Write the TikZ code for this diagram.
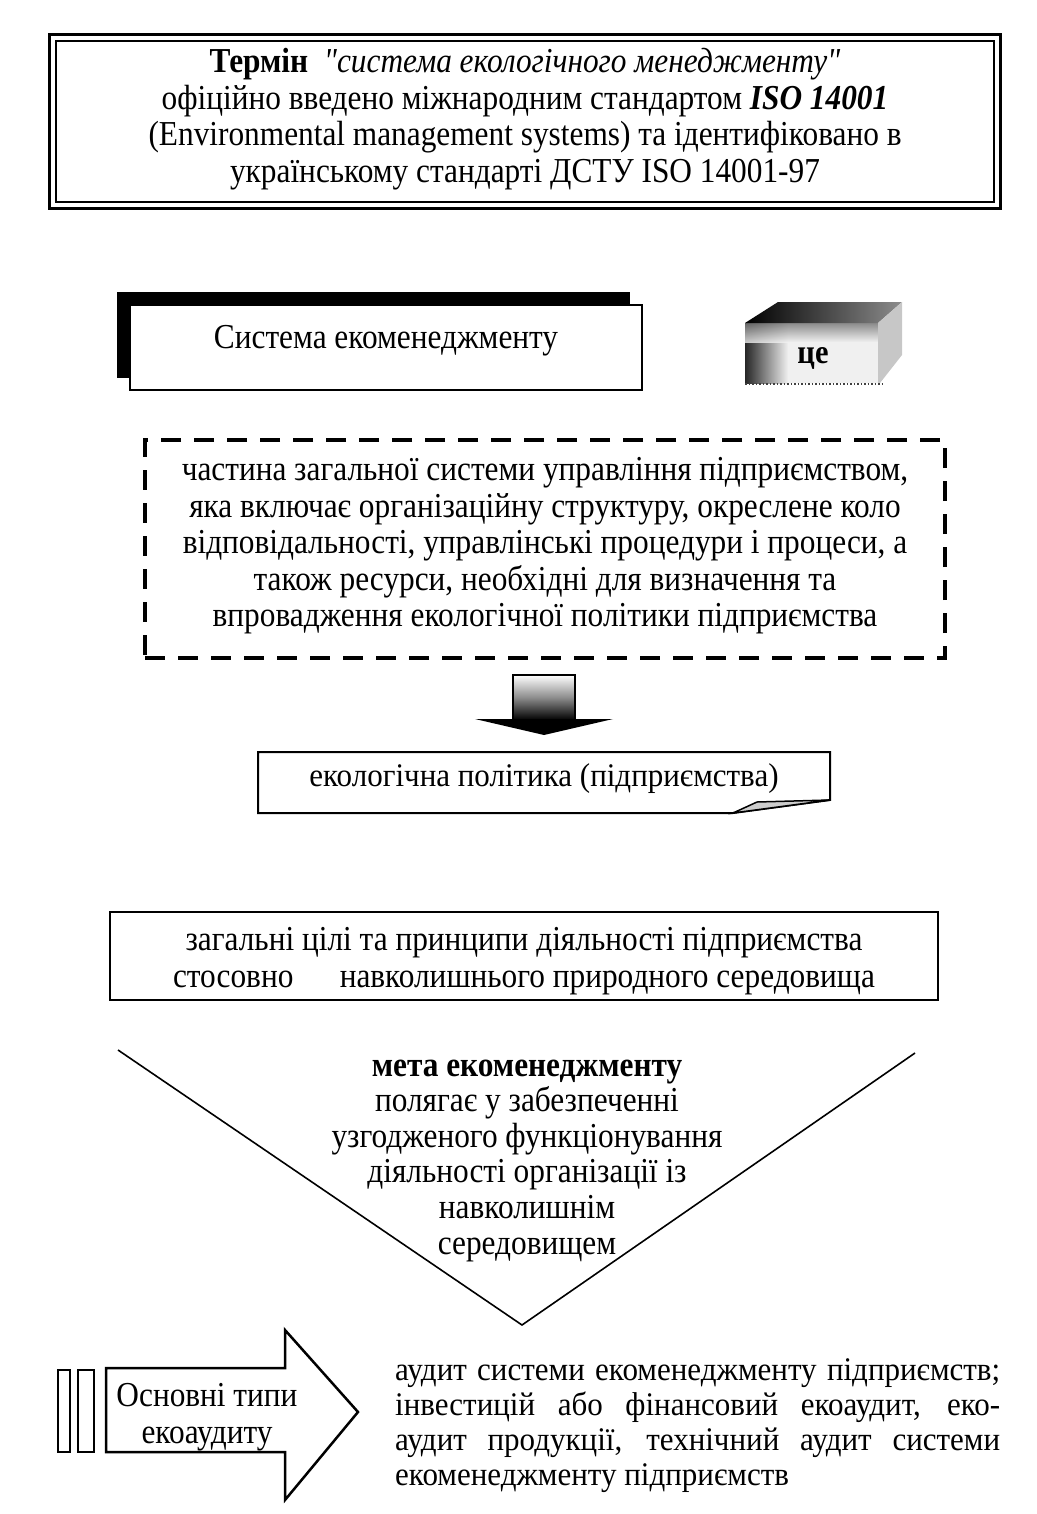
\documentclass[tikz,border=0pt]{standalone}
\usepackage{fontspec}
\setmainfont{Liberation Serif}
\newfontfamily\condfont{Liberation Serif}[FakeStretch=0.895]
\newfontfamily\normfont{Liberation Serif}[FakeStretch=0.94]
\begin{document}
\begin{tikzpicture}[x=1pt,y=-1pt,
  bigtxt/.style={font=\condfont\fontsize{35}{36.5}\selectfont, align=center, inner sep=0pt},
  tritxt/.style={font=\condfont\fontsize{35}{35.6}\selectfont, align=center, inner sep=0pt},
  midtxt/.style={font=\normfont\fontsize{33}{36}\selectfont, align=center, inner sep=0pt},
  framebox/.style={draw, line width=2pt, fill=white},
]
\useasboundingbox (0,0) rectangle (1036,1514);

% ---------- top box
\node[draw, line width=1.3pt, minimum width=938, minimum height=161, inner sep=0pt] (termbox) at (525,121.5) {};
\draw[line width=3pt] ([shift={(-6,-6)}]termbox.north west) rectangle ([shift={(6,6)}]termbox.south east);
\node[bigtxt] (term) at (525,119) {\textbf{Термін}\ \ \textit{"система екологічного менеджменту"}\\
офіційно введено міжнародним стандартом \textbf{\textit{ISO 14001}}\\
(Environmental management systems) та ідентифіковано в\\
українському стандарті ДСТУ ISO 14001-97};

% ---------- system box with shadow
\node[fill=black, minimum width=513, minimum height=86, inner sep=0pt] (sysshadow) at (373.5,335) {};
\node[framebox, minimum width=512, minimum height=85, inner sep=0pt] (sysbox) at (386,347.5) {};
\node[bigtxt] (sys) at (386,341) {Система екоменеджменту};

% ---------- "це" box (3D bevel)
\fill[black!6] (745,323) rectangle (878,383);
\shade[left color=black!85, right color=black!6] (745,323) rectangle (788,383);
\shade[top color=black!55, bottom color=black!6, opacity=0.8] (745,323) rectangle (878,342);
\shade[left color=black, right color=black!45] (745,323) -- (778,302) -- (902,302) -- (878,323) -- cycle;
\fill[black!22] (878,323) -- (902,302) -- (902,355) -- (880,383) -- (878,383) -- cycle;
\draw[black!75, line width=1.5pt, dotted] (745,384) -- (882,384);
\node[font=\condfont\bfseries\fontsize{34}{34}\selectfont, inner sep=0pt] (tse) at (813,358) {це};

% ---------- dashed definition box
\node[draw, line width=4pt, dash pattern=on 20pt off 13pt, minimum width=800, minimum height=218, inner sep=0pt] (defbox) at (545,549) {};
\node[bigtxt] (def) at (545,546) {частина загальної системи управління підприємством,\\
яка включає організаційну структуру, окреслене коло\\
відповідальності, управлінські процедури і процеси, а\\
також ресурси, необхідні для визначення та\\
впровадження екологічної політики підприємства};

% ---------- down arrow
\shade[top color=white, bottom color=black, middle color=black!45] (513,675) rectangle (575,720);
\draw[line width=2pt] (513,720) -- (513,675) -- (575,675) -- (575,720);
\fill (475,719) -- (613,719) -- (544,735) -- cycle;

% ---------- policy box with curled corner
\draw[line width=2pt, fill=white] (258,752) -- (830,752) -- (830,800) -- (733,813) -- (258,813) -- cycle;
\filldraw[line width=1.5pt, fill=black!20] (733,813) -- (757,802) -- (830,800) -- cycle;
\node[midtxt] (pol) at (544,779) {екологічна політика (підприємства)};

% ---------- goals box
\node[framebox, minimum width=828, minimum height=88, inner sep=0pt] (goalsbox) at (524,956) {};
\node[bigtxt] (goals) at (524,961) {загальні цілі та принципи діяльності підприємства\\
стосовно\hspace{1.1em} навколишнього природного середовища};

% ---------- inverted triangle
\coordinate (tl) at (118,1050);
\coordinate (tip) at (522,1325);
\coordinate (tr) at (915,1053);
\draw[line width=1.6pt] (tl) -- (tip) -- (tr);
\node[tritxt] (aim) at (527,1160.5) {\textbf{мета екоменеджменту}\\
полягає у забезпеченні\\
узгодженого функціонування\\
діяльності організації із\\
навколишнім\\
середовищем};

% ---------- bottom arrow
\draw[line width=2pt] (58,1370) rectangle (70,1452);
\draw[line width=2pt] (78,1370) rectangle (94,1452);
\draw[line width=2.5pt, line join=miter] (106,1368) -- (285,1368) -- (285,1330) -- (358,1412) -- (285,1500) -- (285,1452) -- (106,1452) -- cycle;
\node[bigtxt] (types) at (207,1417) {Основні типи\\екоаудиту};

\node[font=\normfont\fontsize{33}{35}\selectfont, text width=605, align=justify, inner sep=0pt, anchor=west] (audit) at (395,1426)
{аудит системи екоменеджменту підприємств;\linebreak
інвестицій або фінансовий екоаудит, еко-\linebreak
аудит продукції, технічний аудит системи\linebreak
екоменеджменту підприємств};
\end{tikzpicture}
\end{document}
